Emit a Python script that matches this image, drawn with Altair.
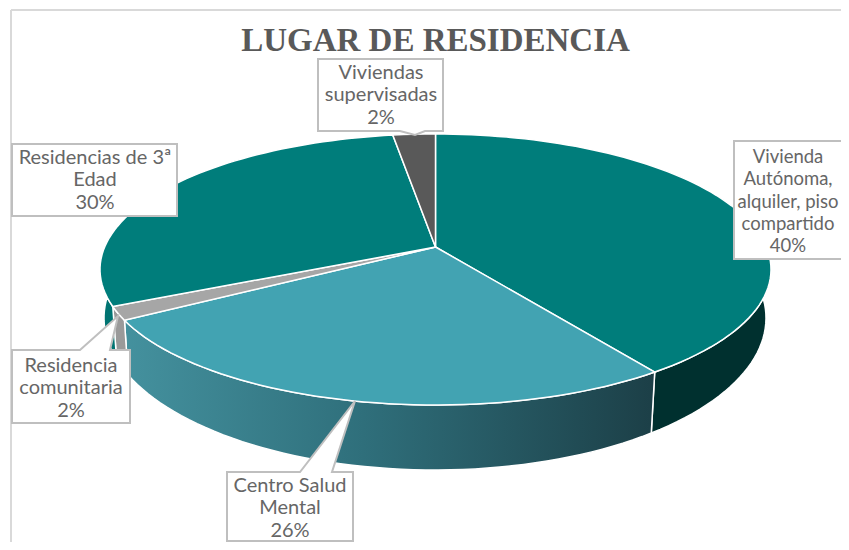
import math
import altair as alt

categories = ["Vivienda\nAutónoma,\nalquiler, piso\ncompartido", "Centro Salud\nMental",
              "Residencia\ncomunitaria", "Residencias de 3ª\nEdad", "Viviendas\nsupervisadas"]
values = [40.3, 26.2, 1.6, 29.5, 2.4]
percent_labels = ["40%", "26%", "2%", "30%", "2%"]

# ---- presentation (image pixel coordinates; the page margin is removed below)
M = 8
top_fill = ["#007d7b", "#42a3b2", "#a6a6a6", "#007d7b", "#595959"]
wall_fill = [
    "#00302f",
    {"gradient": "linear", "x1": 0, "x2": 1, "y1": 0, "y2": 0, "stops": [
        {"offset": 0, "color": "#44919e"}, {"offset": 0.45, "color": "#2f6f7b"},
        {"offset": 1, "color": "#1c3f47"}]},
    "#9a9a9a", "#007472", "#404040",
]
TOP = dict(cx=435.5, cy=269.5, rx=335.5, ry=135.5)
LOW = dict(cx=435.0, cy=318.0, rx=331.0, ry=152.0)
TILT = 0.166


def persp(theta):
    """Disc point at true angle theta (clockwise from 12 o'clock) seen in perspective."""
    s, c = math.sin(theta), math.cos(theta)
    d = 1 + TILT * c
    return s * math.sqrt(1 - TILT ** 2) / d, (c + TILT) / d


def onto(e, u, v):
    return [e["cx"] + e["rx"] * u - M, e["cy"] - e["ry"] * v - M]


def feature(points):
    ring = list(points) + [points[0]]
    return {"type": "Feature", "properties": {}, "geometry": {"type": "Polygon", "coordinates": [ring]}}


def shape(points, **mark):
    return alt.Chart(alt.Data(values=[feature(points)])).mark_geoshape(**mark)


total = sum(values)
edges = [0]
for v in values:
    edges.append(edges[-1] + v)


def rim(e, a, b):
    n = max(int((b - a) * 2), 4)
    return [onto(e, *persp(2 * math.pi * (a + (b - a) * i / n) / total)) for i in range(n + 1)]


layers = []

# frame
layers.append(alt.Chart(alt.Data(values=[{"a": 1}])).mark_rule(color="#d9d9d9", strokeWidth=2).encode(
    x=alt.value(11 - M), y=alt.value(10 - M), y2=alt.value(534)))
layers.append(alt.Chart(alt.Data(values=[{"a": 1}])).mark_rule(color="#d9d9d9", strokeWidth=2).encode(
    x=alt.value(11 - M), x2=alt.value(833), y=alt.value(10 - M)))

# side walls, then the top surface
for i in range(len(values)):
    a, b = edges[i], edges[i + 1]
    wall = rim(TOP, a, b) + rim(LOW, a, b)[::-1]
    layers.append(shape(wall, fill=wall_fill[i], stroke="#ffffff", strokeWidth=1.5))
apex = onto(TOP, 0, TILT)
for i in range(len(values)):
    a, b = edges[i], edges[i + 1]
    layers.append(shape([apex] + rim(TOP, a, b), fill=top_fill[i], stroke="#ffffff", strokeWidth=1.5))

# callouts
BOX = dict(fill="#ffffff", stroke="#bfbfbf", strokeWidth=2)


def P(*pts):
    return [[x - M, y - M] for x, y in pts]


callouts = [
    P((318, 59), (443, 59), (443, 131), (425, 131), (415, 135), (400, 131), (318, 131)),
    P((12, 144), (177, 144), (177, 216), (12, 216)),
    P((734, 141), (860, 141), (860, 259), (734, 259)),
    P((12, 350), (80, 350), (118, 316), (110, 350), (130, 350), (130, 423), (12, 423)),
    P((227, 472), (300, 472), (355, 401), (332, 472), (353, 472), (353, 541), (227, 541)),
]
for c in callouts:
    layers.append(shape(c, **BOX))

# labels
label_pos = [(788, 148), (290, 476), (71, 356), (95, 148), (381, 63)]
label_size = [18.5, 20, 20, 20, 20]
label_rows = [
    {"label": f"{cat}\n{pct}", "px": x - M, "py": y - M, "fs": s}
    for cat, pct, (x, y), s in zip(categories, percent_labels, label_pos, label_size)
]
layers.append(alt.Chart(alt.Data(values=label_rows)).mark_text(
    font="Lato", color="#666666", align="center", baseline="top",
    lineBreak="\n", lineHeight=22.3,
).encode(
    x=alt.X("px:Q", scale=None), y=alt.Y("py:Q", scale=None), text="label:N",
    size=alt.Size("fs:Q", scale=None)))

# title
layers.append(alt.Chart(alt.Data(values=[{"t": "LUGAR DE RESIDENCIA"}])).mark_text(
    font="Liberation Serif", fontSize=33, fontWeight="bold", color="#595959",
    align="center", baseline="middle",
).encode(x=alt.value(435.5 - M), y=alt.value(41 - M), text="t:N"))

chart = alt.layer(*layers).project(
    type="identity", scale=1, translate=[0, 0]
).properties(width=833, height=534, padding=0, autosize=alt.AutoSizeParams(type="none")).configure_view(stroke=None)

chart.save("out.html", embed_options={"renderer": "svg", "actions": False})
